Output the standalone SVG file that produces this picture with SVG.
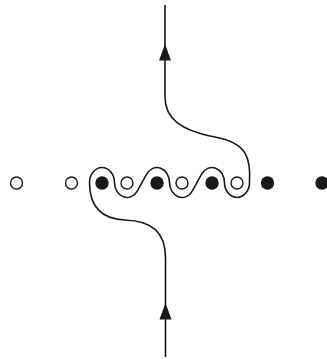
<svg xmlns="http://www.w3.org/2000/svg" xmlns:xlink="http://www.w3.org/1999/xlink" width="327" height="359" viewBox="0 0 327 359">
  <style>
    .open { fill: #ffffff; stroke: #1a1a1a; stroke-width: 1.4; }
    .filled { fill: #1a1a1a; stroke: none; }
    .wire { fill: none; stroke: #1a1a1a; stroke-width: 1.6; stroke-linecap: butt; stroke-linejoin: round; }
    .head { fill: #1a1a1a; stroke: none; }
  </style>
  <defs>
    <!-- upward arrowhead, tip at the origin -->
    <polygon id="arrow-up" points="0,0 6,16.5 -6,16.5"/>
  </defs>

  <rect width="327" height="359" fill="#ffffff"/>

  <!-- row of sites: open and filled dots -->
  <g id="o1"><circle class="open" cx="16.5" cy="183" r="6"/></g>
  <g id="o2"><circle class="open" cx="71.5" cy="183" r="6"/></g>
  <g id="f1"><circle class="filled" cx="102" cy="183" r="6.7"/></g>
  <g id="o3"><circle class="open" cx="127" cy="183" r="6"/></g>
  <g id="f2"><circle class="filled" cx="157" cy="183" r="6.7"/></g>
  <g id="o4"><circle class="open" cx="182" cy="183" r="6"/></g>
  <g id="f3"><circle class="filled" cx="212" cy="183" r="6.7"/></g>
  <g id="o5"><circle class="open" cx="237" cy="183" r="6"/></g>
  <g id="f4"><circle class="filled" cx="267.5" cy="183" r="6.7"/></g>
  <g id="f5"><circle class="filled" cx="322" cy="183" r="6.7"/></g>

  <!-- path entering from below, weaving over filled and under open dots, leaving upward -->
  <g id="connectors">
    <path class="wire" d="M165.5,357 V258
      C165.5,232 152,221 125,220
      C100,219 89.5,205 89.5,182.5
      A12.5,15 0 0 1 114.5,182.5
      A12.5,15 0 0 0 137.42,190.79
      L146.58,174.21
      A12.5,15 0 0 1 169.5,182.5
      A12.5,15 0 0 0 192.42,190.79
      L201.58,174.21
      A12.5,15 0 0 1 224.5,182.5
      A12.5,15 0 0 0 249.5,182.5
      C251,158 247,143 215,137
      C180,130.4 165,118 165,97
      V5"/>
    <use xlink:href="#arrow-up" href="#arrow-up" class="head" x="165" y="44"/>
    <use xlink:href="#arrow-up" href="#arrow-up" class="head" x="165.5" y="303"/>
  </g>
</svg>
